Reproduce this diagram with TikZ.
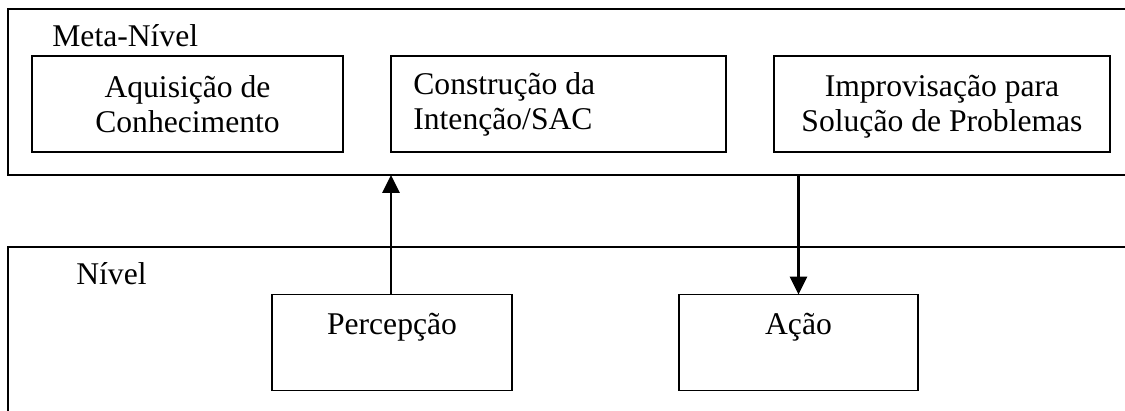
\documentclass[tikz,border=0pt]{standalone}
\usepackage{fontspec}
\setmainfont{Liberation Serif}
\usetikzlibrary{arrows.meta}
\begin{document}
\begin{tikzpicture}[x=0.02cm, y=-0.02cm]
      \tikzset{outer/.style={draw, rectangle, line width=1pt, inner sep=0pt, outer sep=0pt},
               block/.style={draw, rectangle, line width=1pt, inner sep=0pt, outer sep=0pt, minimum height=1.92cm},
               txt/.style={inner sep=0pt, anchor=base, align=center, font=\fontsize{18}{20.3}\selectfont}}
    \useasboundingbox (0,0) rectangle (1125,411);
    \clip (0,0) rectangle (1125,411);

    \node[outer, minimum width=22.64cm, minimum height=3.32cm] at (574,92) (meta) {};
    \node[outer, minimum width=22.64cm, minimum height=3.66cm] at (574,338.5) (nivel) {};

    \node[block, minimum width=6.22cm] at (187.5,104) (aquisicao) {};
    \node[block, minimum width=6.7cm] at (558.5,104) (construcao) {};
    \node[block, minimum width=6.72cm] at (942,104) (improvisacao) {};
    \node[block, minimum width=4.8cm] at (392,342.5) (percepcao) {};
    \node[block, minimum width=4.78cm] at (798.5,342.5) (acao) {};

    \node[txt, anchor=base west] at (52,47) (meta_t) {Meta-Nível};
    \node[txt, anchor=base west] at (76,285) (nivel_t) {Nível};
    \node[txt] at (187.5,133) (aquisicao_t) {Aquisição de\\Conhecimento};
    \node[txt, anchor=base west, align=left] at (413,130) (construcao_t) {Construção da\\Intenção/SAC};
    \node[txt] at (942,132) (improvisacao_t) {Improvisação para\\Solução de Problemas};
    \node[txt] at (392,335) (percepcao_t) {Percepção};
    \node[txt] at (798.5,335) (acao_t) {Ação};

    	\path[->, > = {Triangle[length=0.36cm, width=0.34cm]}, line width=1.6pt] (percepcao.north -| 391,0) edge node {} (meta.south -| 391,0);
    	\path[->, > = {Triangle[length=0.36cm, width=0.34cm]}, line width=1.6pt] (meta.south -| acao.north) edge node {} (acao.north);
  \end{tikzpicture}
\end{document}
